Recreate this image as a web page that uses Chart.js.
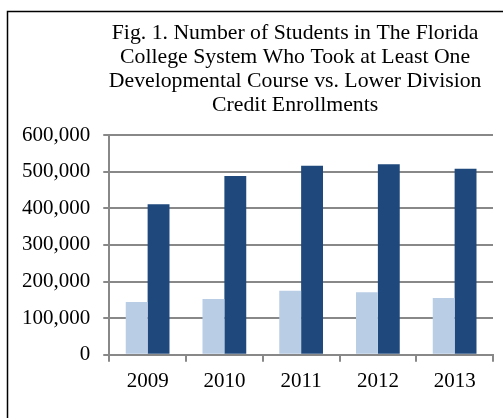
<!DOCTYPE html>
<html>
<head>
<meta charset="utf-8">
<script src="https://cdn.jsdelivr.net/npm/chart.js@4"></script>
<style>
  html, body { margin: 0; padding: 0; background: #fff; }
  #wrap { width: 503px; height: 418px; position: relative; }
</style>
</head>
<body>
<div id="wrap"><canvas id="c" width="503" height="418"></canvas></div>
<script>
const years = ['2009', '2010', '2011', '2012', '2013'];
const developmentalStudents = [144000, 152000, 175000, 171000, 155000];
const lowerDivisionEnrollments = [411000, 488000, 516000, 520000, 508000];
const yTicks = [0, 100000, 200000, 300000, 400000, 500000, 600000];
const titleLines = [
  'Fig. 1. Number of Students in The Florida',
  'College System Who Took at Least One',
  'Developmental Course vs. Lower Division',
  'Credit Enrollments'
];

const gridGray = '#888888';

const framePlugin = {
  id: 'frame',
  beforeDraw(chart) {
    const ctx = chart.ctx;
    ctx.save();
    ctx.fillStyle = '#ffffff';
    ctx.fillRect(0, 0, chart.width, chart.height);
    ctx.strokeStyle = '#000000';
    ctx.lineWidth = 1.5;
    ctx.beginPath();
    ctx.moveTo(7.5, chart.height + 5);
    ctx.lineTo(7.5, 11.5);
    ctx.lineTo(chart.width + 5, 11.5);
    ctx.stroke();
    ctx.restore();
  }
};

const titleShift = {
  id: 'titleShift',
  afterLayout(chart) {
    const t = chart.titleBlock;
    if (t) {
      t.left = chart.chartArea.left - 12;
      t.right = chart.chartArea.right;
    }
  }
};

new Chart(document.getElementById('c'), {
  type: 'bar',
  data: {
    labels: years,
    datasets: [
      {
        label: 'Students Who Took at Least One Developmental Course',
        data: developmentalStudents,
        backgroundColor: '#B9CDE5',
        borderWidth: 0
      },
      {
        label: 'Lower Division Credit Enrollments',
        data: lowerDivisionEnrollments,
        backgroundColor: '#1F497D',
        borderWidth: 0
      }
    ]
  },
  options: {
    responsive: false,
    animation: false,
    devicePixelRatio: 1,
    layout: { padding: { left: 9, right: 10, top: 0, bottom: 17 } },
    datasets: { bar: { barPercentage: 1.0, categoryPercentage: 0.57 } },
    plugins: {
      legend: { display: false },
      tooltip: { enabled: false },
      title: {
        display: true,
        text: titleLines,
        color: '#000000',
        font: { family: '"Liberation Serif", "Times New Roman", serif', size: 21.75, weight: 'normal', lineHeight: 24 / 21.75 },
        padding: { top: 21.5, bottom: 17.5 }
      }
    },
    scales: {
      x: {
        grid: {
          display: true,
          offset: true,
          drawOnChartArea: false,
          drawTicks: true,
          tickLength: 7,
          color: gridGray,
          lineWidth: 2
        },
        border: { display: true, color: gridGray, width: 2 },
        ticks: {
          color: '#000000',
          padding: 7,
          font: { family: '"Liberation Serif", "Times New Roman", serif', size: 21 }
        }
      },
      y: {
        min: 0,
        max: 600000,
        afterBuildTicks(scale) {
          scale.ticks = yTicks.map(v => ({ value: v }));
        },
        grid: {
          color: gridGray,
          lineWidth: 2,
          tickLength: 6,
          drawTicks: true
        },
        border: { display: true, color: gridGray, width: 2 },
        ticks: {
          color: '#000000',
          padding: 13,
          font: { family: '"Liberation Serif", "Times New Roman", serif', size: 21 },
          callback: v => Number(v).toLocaleString('en-US')
        }
      }
    }
  },
  plugins: [framePlugin, titleShift]
});
</script>
</body>
</html>
